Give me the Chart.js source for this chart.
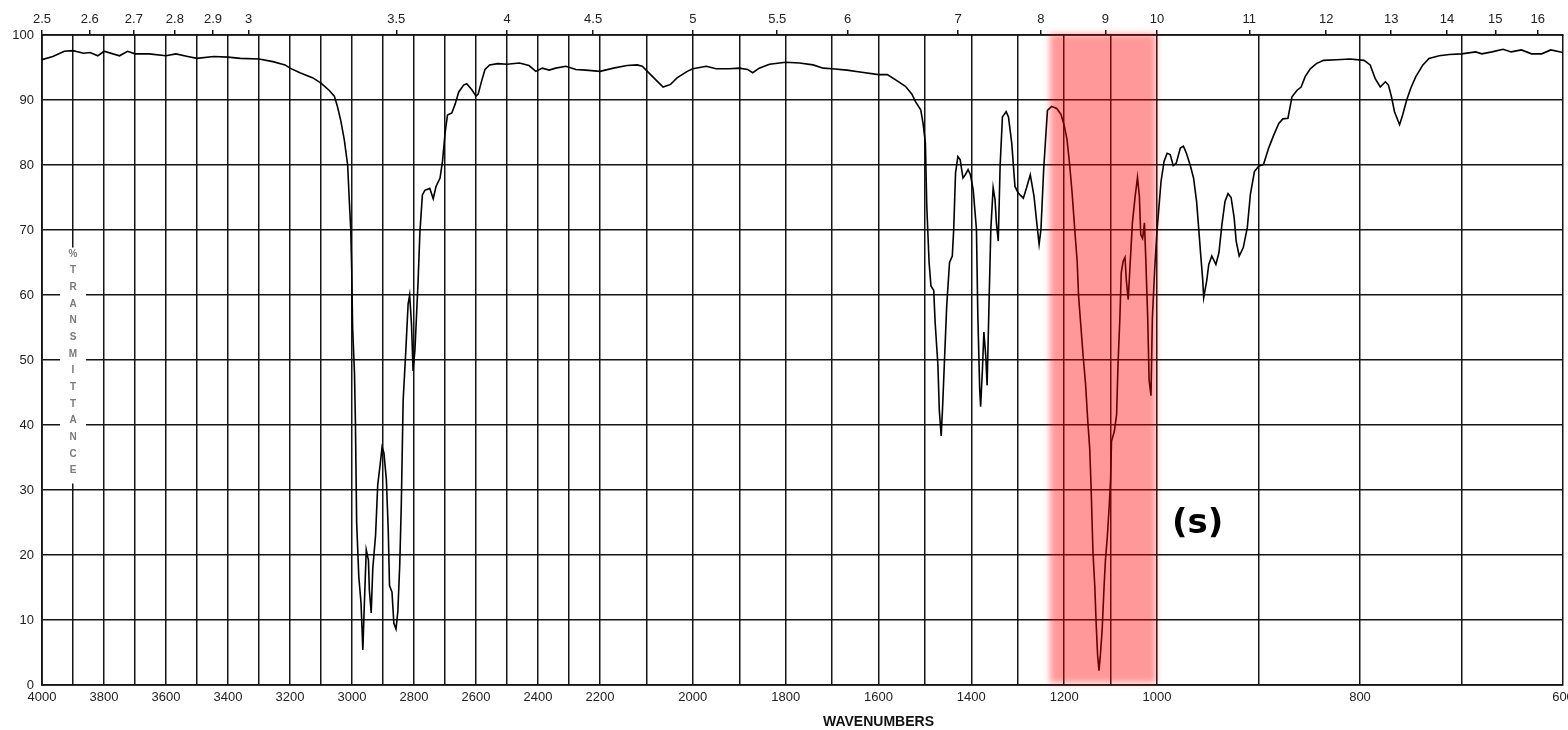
<!DOCTYPE html>
<html><head><meta charset="utf-8">
<script src="https://cdn.jsdelivr.net/npm/chart.js@4/dist/chart.umd.min.js"></script>
<style>html,body{margin:0;padding:0;background:#fff;}canvas{display:block;}</style>
</head><body>
<canvas id="c" width="1568" height="730"></canvas>
<script>
// ---- data (wavenumber cm-1, % transmittance) ----
const wavenumber = [4000,3965,3928,3900,3866,3845,3820,3800,3750,3724,3700,3655,3600,3568,3530,3500,3446,3400,3360,3300,3255,3216,3200,3168,3126,3100,3074,3057,3047,3036,3025,3014,3009,3004,3001,2998,2992,2989,2985,2978,2971,2965,2960,2954,2947,2944,2938,2933,2924,2917,2909,2903,2897,2889,2883,2879,2871,2865,2858,2852,2846,2841,2835,2827,2819,2814,2808,2803,2797,2792,2787,2781,2773,2765,2749,2738,2729,2716,2708,2700,2692,2678,2667,2656,2640,2630,2614,2600,2593,2582,2571,2556,2530,2500,2460,2429,2407,2386,2364,2343,2310,2278,2246,2200,2171,2142,2120,2109,2091,2077,2064,2048,2034,2012,2000,1971,1950,1921,1900,1882,1871,1857,1835,1800,1770,1741,1719,1700,1668,1640,1600,1581,1563,1542,1528,1520,1509,1504,1499,1496,1491,1487,1481,1478,1472,1469,1465,1462,1458,1453,1447,1441,1438,1434,1429,1424,1418,1413,1407,1402,1396,1389,1386,1382,1380,1376,1373,1369,1366,1362,1358,1353,1349,1346,1342,1338,1333,1325,1320,1313,1306,1299,1288,1281,1273,1265,1259,1254,1250,1244,1240,1236,1227,1216,1207,1200,1194,1188,1183,1177,1172,1169,1164,1159,1154,1149,1145,1142,1138,1134,1131,1128,1125,1122,1118,1114,1111,1107,1103,1100,1098,1092,1087,1084,1080,1077,1073,1069,1066,1062,1058,1053,1047,1042,1038,1035,1031,1027,1024,1020,1017,1013,1010,1005,1000,996,993,990,987,984,981,977,974,971,967,964,961,959,957,955,954,951,949,946,942,939,936,933,930,927,924,922,919,915,911,908,904,900,895,890,885,880,876,871,867,862,858,854,849,843,836,823,810,796,790,785,780,775,772,769,766,761,758,754,750,745,738,732,722,712,700,686,680,670,659,651,641,631,621,612,600];
const transmittance = [96.2,96.7,97.5,97.6,97.2,97.3,96.8,97.5,96.8,97.5,97.1,97.1,96.8,97.1,96.7,96.4,96.7,96.6,96.4,96.3,95.9,95.4,94.9,94.2,93.4,92.6,91.5,90.6,89,86.8,83.9,80,74.8,70,64,55,48,40.5,25,16.6,12.7,5.4,12.7,20.8,19.2,14.6,11.1,17.9,23,30.8,34,36.6,35.7,31.5,23.7,15.3,14.3,9.5,8.6,11.4,18.5,27.6,43.8,50.9,58.6,60,55.4,48.3,51.5,56.7,61.9,69.6,75.4,76.1,76.4,74.8,76.7,78,80.6,84.8,87.7,88,89.4,91.2,92.3,92.5,91.6,90.6,90.9,92.9,94.7,95.4,95.6,95.5,95.7,95.3,94.4,94.9,94.6,94.9,95.2,94.7,94.6,94.4,94.9,95.3,95.4,95.2,93.9,92.9,92,92.4,93.4,94.4,94.8,95.2,94.8,94.8,94.9,94.7,94.2,94.9,95.5,95.8,95.7,95.4,94.9,94.8,94.6,94.3,93.9,93.9,93.1,92.1,90.9,89.7,88.5,86.4,83.4,73.7,65,61.4,60.7,55.8,49.2,42.3,38.3,42.6,49.7,58.4,65,66,70.1,78.8,81.3,80.8,78,78.5,79.3,78.5,76.2,70.1,56.8,45.6,42.8,48.7,54.3,50.7,46.1,58.4,70.1,76.5,74.7,71.1,68.3,79.8,87.4,88.2,87.4,83.4,76.7,75.7,74.9,76.5,78.5,75.2,71.1,67.8,70.1,79.5,84,88.4,89,88.7,87.8,86.1,84,79.9,75.8,69.9,65.2,59.9,55.2,50.5,46.4,40.5,36.4,30.5,20.5,15.2,9.3,4.6,2.2,4.6,8.7,15.2,19.3,22.8,27.5,31.6,37.5,39,41.6,49.3,56.4,63.4,65.2,65.8,62.2,59.3,64.6,71.1,75.2,78.1,75.2,69.3,68.7,71.1,65.2,56.4,46.9,44.5,56.4,64,69.9,77.5,80.6,81.8,81.6,79.9,80.3,82.6,82.9,81.8,79.8,78,74.4,70.4,66.3,62.4,59.6,62.2,64.7,66,64.7,66.5,70.9,74.4,75.6,75,71.9,68.3,66,67.3,70.4,75.5,79,79.8,80.1,82.6,84.6,86.4,87.1,87.2,90.5,91.5,92,93.6,94.8,95.6,96.1,96.2,96.3,96.1,95.4,93.3,92,92.8,92.3,90.5,88.2,86.2,87.7,90,91.8,93.6,95.4,96.4,96.8,97,97.1,97.4,97.1,97.4,97.8,97.4,97.7,97.1,97.1,97.7,97.3];
const bottomTickLabels = [4000,3800,3600,3400,3200,3000,2800,2600,2400,2200,2000,1800,1600,1400,1200,1000,800,600];
const micronLabels = ['2.5','2.6','2.7','2.8','2.9','3','3.5','4','4.5','5','5.5','6','7','8','9','10','11','12','13','14','15','16'];
const yTickLabels = [0,10,20,30,40,50,60,70,80,90,100];
const yAxisLetters = ['%','T','R','A','N','S','M','I','T','T','A','N','C','E'];
const xAxisTitle = 'WAVENUMBERS';
const bandRange = [1231, 1002];
const bandLabel = '(s)';
const bandLabelAt = [960, 24.8];

// ---- piecewise wavenumber scale (grating change at 2200 and 1000 cm-1) ----
const BREAK_WN = [4000, 2200, 1000, 600];
const BREAK_FRAC = [0, 558/1521, 1115/1521, 1];
function wnToFrac(v){
  for(let i=0;i<3;i++){
    const a=BREAK_WN[i], b=BREAK_WN[i+1];
    if(v>=b || i===2) return BREAK_FRAC[i] + (a-v)/(a-b)*(BREAK_FRAC[i+1]-BREAK_FRAC[i]);
  }
}
function fracToWn(f){
  for(let i=0;i<3;i++){
    const fa=BREAK_FRAC[i], fb=BREAK_FRAC[i+1];
    if(f<=fb || i===2) return BREAK_WN[i] - (f-fa)/(fb-fa)*(BREAK_WN[i]-BREAK_WN[i+1]);
  }
}
class IRScale extends Chart.LinearScale {
  getPixelForValue(v){ return this.getPixelForDecimal(wnToFrac(v)); }
  getValueForPixel(p){ return fracToWn(this.getDecimalForPixel(p)); }
}
IRScale.id = 'irscale';
IRScale.defaults = Chart.LinearScale.defaults;
Chart.register(IRScale);

const gridWn = [];
for(let w=4000; w>=600; w-=100) gridWn.push(w);

const GRID = '#151515';
const FONT = 'Liberation Sans';

const decorPlugin = {
  id:'decor',
  beforeDatasetsDraw(chart){
    const {ctx, scales:{x,y}} = chart;
    const cx = x.getPixelForValue(3900);
    ctx.save();
    ctx.fillStyle = '#fff';
    ctx.fillRect(cx-13, y.getPixelForValue(67.3), 26, y.getPixelForValue(31)-y.getPixelForValue(67.3));
    ctx.fillStyle = '#7a7a7a';
    ctx.font = 'bold 10px "'+FONT+'"';
    ctx.textAlign='center'; ctx.textBaseline='middle';
    const top = y.getPixelForValue(66.3), bot = y.getPixelForValue(33.0);
    yAxisLetters.forEach((ch,i)=>{
      ctx.fillText(ch, cx, top + (bot-top)*i/(yAxisLetters.length-1));
    });
    ctx.restore();
  },
  afterDraw(chart){
    const {ctx, chartArea:a, scales:{x,y}} = chart;
    ctx.save();
    // highlight band
    const x1 = x.getPixelForValue(bandRange[0]), x2 = x.getPixelForValue(bandRange[1]);
    ctx.filter = 'blur(3px)';
    ctx.fillStyle = 'rgba(255,0,0,0.4)';
    ctx.fillRect(x1, a.top-1, x2-x1, a.bottom-a.top-1);
    ctx.filter = 'none';
    // label
    ctx.fillStyle = '#000';
    ctx.font = 'bold 34px "DejaVu Sans"';
    ctx.textAlign='center'; ctx.textBaseline='middle';
    ctx.fillText(bandLabel, x.getPixelForValue(bandLabelAt[0]), y.getPixelForValue(bandLabelAt[1]));
    // axis title
    ctx.font = 'bold 14px "'+FONT+'"';
    ctx.fillStyle = '#111';
    ctx.fillText(xAxisTitle, x.getPixelForValue(1600), 722);
    ctx.restore();
  }
};

new Chart(document.getElementById('c'), {
  type:'line',
  data:{ datasets:[{
    data: wavenumber.map((w,i)=>({x:w, y:transmittance[i]})),
    borderColor:'#000', borderWidth:1.6, pointRadius:0, tension:0, fill:false
  }]},
  options:{
    responsive:false, animation:false, devicePixelRatio:1,
    layout:{padding:{left:0,right:5,top:0,bottom:0}},
    plugins:{legend:{display:false}, tooltip:{enabled:false}},
    scales:{
      x:{
        type:'irscale', position:'bottom', min:600, max:4000,
        afterBuildTicks: s => { s.ticks = gridWn.map(v=>({value:v})); },
        afterFit: s => { s.height = 45; s.paddingLeft = 0; s.paddingRight = 0; },
        ticks:{ autoSkip:false, maxRotation:0, minRotation:0, padding:5, color:'#222',
          font:{family:FONT, size:13},
          callback: v => bottomTickLabels.includes(v) ? String(v) : '' },
        grid:{ color:GRID, lineWidth:1.5, drawTicks:false },
        border:{ display:true, color:GRID, width:1.8 }
      },
      x2:{
        type:'irscale', axis:'x', position:'top', min:600, max:4000,
        afterBuildTicks: s => { s.ticks = micronLabels.map(m=>({value:10000/parseFloat(m)})); },
        afterFit: s => { s.height = 35; s.paddingLeft = 0; s.paddingRight = 0; },
        ticks:{ autoSkip:false, maxRotation:0, minRotation:0, padding:3, color:'#222',
          font:{family:FONT, size:13},
          callback: (v,i) => micronLabels[i] },
        grid:{ drawOnChartArea:false, drawTicks:true, tickLength:5, color:GRID, lineWidth:1.5 },
        border:{ display:true, color:GRID, width:1.8 }
      },
      y:{
        min:0, max:100,
        afterBuildTicks: s => { s.ticks = yTickLabels.map(v=>({value:v})); },
        afterFit: s => { s.width = 42; },
        ticks:{ padding:8, color:'#222', font:{family:FONT, size:13} },
        grid:{ color:GRID, lineWidth:1.5, drawTicks:false },
        border:{ display:true, color:GRID, width:1.8 }
      }
    }
  },
  plugins:[decorPlugin]
});
</script>
</body></html>
